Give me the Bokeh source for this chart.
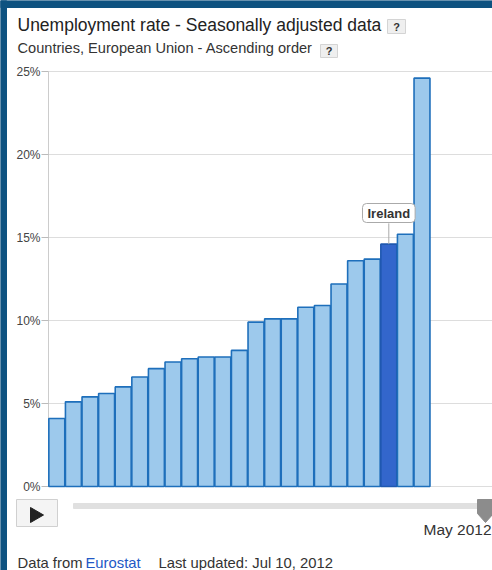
from bokeh.plotting import figure
from bokeh.models import Label, Range1d, ColumnDataSource
from bokeh.embed import file_html
from bokeh.resources import INLINE

# ---------------- data ----------------
countries = ["Austria", "Netherlands", "Luxembourg", "Germany", "Malta",
             "Czech Republic", "Romania", "Belgium", "Denmark", "Finland",
             "Sweden", "Slovenia", "United Kingdom", "Poland", "France",
             "Italy", "Hungary", "Bulgaria", "Lithuania", "Slovakia",
             "Ireland", "Portugal", "Spain"]
rates = [4.1, 5.1, 5.4, 5.6, 6.0, 6.6, 7.1, 7.5, 7.7, 7.8, 7.8, 8.2,
         9.9, 10.1, 10.1, 10.8, 10.9, 12.2, 13.6, 13.7, 14.6, 15.2, 24.6]
highlight = "Ireland"
y_ticks = [0, 5, 10, 15, 20, 25]
y_tick_labels = ["0%", "5%", "10%", "15%", "20%", "25%"]
title_text = "Unemployment rate - Seasonally adjusted data"
subtitle_text = "Countries, European Union - Ascending order"
period_text = "May 2012"

# ---------------- layout constants (page pixels) ----------------
W, H = 492, 570
FL, FB = 48, 486          # plot-area left edge and baseline (0 %) in page pixels
SLOT = 16.6               # pixels per category slot
PX = 16.6                 # pixels per percentage point
FONT = "Liberation Sans"

def dx(X):                # page pixel -> data x
    return (X - FL) / SLOT

def dy(Y):                # page pixel -> data y
    return (FB - Y) / PX

xs = [i + 0.5 for i in range(len(rates))]
fills = ["#3366cc" if c == highlight else "#9dc9ec" for c in countries]
lines = ["#1f58b0" if c == highlight else "#1e6fbb" for c in countries]
src = ColumnDataSource(dict(x=xs, top=rates, country=countries, fill=fills, line=lines))

p = figure(width=W, height=H, output_backend="svg", toolbar_location=None,
           x_range=Range1d(dx(0), dx(W)), y_range=Range1d(dy(H), dy(0)),
           x_axis_location=None, y_axis_location=None, title_location=None,
           min_border=0, min_border_left=0, min_border_right=0,
           min_border_top=0, min_border_bottom=0)
p.outline_line_color = None
p.background_fill_color = "white"
p.border_fill_color = "white"
p.grid.visible = False

x_end = dx(W)
# value grid lines, axis line and ticks, driven by the tick arrays
p.segment(x0=[0] * len(y_ticks), x1=[x_end] * len(y_ticks), y0=y_ticks, y1=y_ticks,
          line_color="#dddddd", line_width=1)
p.segment(x0=[0], x1=[0], y0=[y_ticks[0]], y1=[y_ticks[-1]], line_color="#cccccc", line_width=1)
p.segment(x0=[dx(FL - 7)] * len(y_ticks), x1=[0] * len(y_ticks), y0=y_ticks, y1=y_ticks,
          line_color="#bbbbbb", line_width=1)
p.text(x=[0] * len(y_ticks), y=y_ticks, text=y_tick_labels, x_offset=-8,
       text_align="right", text_baseline="middle", text_font_size="12px",
       text_color="#444444", text_font={"value": FONT})

# bars
p.vbar(x="x", top="top", width=0.96, bottom=0, source=src,
       fill_color="fill", line_color="line", line_width=1.6)

# highlight call-out
hi = countries.index(highlight)
p.segment(x0=[xs[hi]], y0=[rates[hi]], x1=[xs[hi]], y1=[rates[hi] + 1.25],
          line_color="#aaaaaa", line_width=1)
p.add_layout(Label(x=xs[hi], y=H - 212.5, x_units="data", y_units="screen",
                   text=highlight, text_font=FONT, text_font_style="bold",
                   text_font_size="13px", text_color="#333333",
                   text_align="center", text_baseline="middle",
                   background_fill_color="white", border_line_color="#aaaaaa",
                   border_line_width=1, border_radius=4,
                   padding=dict(left=5, right=5, top=2, bottom=2)))

def shape(Xs, Ys, fill, line=None):
    p.patch(x=[dx(v) for v in Xs], y=[dy(v) for v in Ys], fill_color=fill,
            line_color=line if line else fill, line_width=1)

def label(X, Y, text, size, color="#222222", bold=False, align="left"):
    # Y is the vertical centre of the capital letters, in page pixels
    p.add_layout(Label(x=X, y=H - Y, x_units="screen", y_units="screen",
                       text=text, text_font=FONT, text_font_size=size,
                       text_font_style="bold" if bold else "normal",
                       text_color=color, text_align=align, text_baseline="middle"))

# page frame strips
shape([0, 6, 6, 0], [0, 0, H, H], "#0e5280")
shape([0, W, W, 0], [0, 0, 7, 7], "#0e5280")

# titles
label(17, 24, title_text, "17.5px", "#222222")
label(17, 47.5, subtitle_text, "14.6px", "#333333")
shape([387, 405, 405, 387], [19, 19, 33, 33], "#efefef", "#d4d4d4")
label(396, 26.5, "?", "11px", "#333333", bold=True, align="center")
shape([320, 337, 337, 320], [44, 44, 57, 57], "#efefef", "#d4d4d4")
label(328.5, 50.5, "?", "11px", "#333333", bold=True, align="center")

# play button and slider
shape([16, 57, 57, 16], [499, 499, 526, 526], "#f4f4f4", "#d0d0d0")
shape([30, 43, 30], [507, 514.5, 522], "#222222")
shape([73, 492, 492, 73], [503, 503, 508, 508], "#e0e0e0")
shape([477, 493, 493, 485, 477], [499, 499, 513, 522, 513], "#8c8c8c")
label(423, 529, period_text, "15.5px", "#333333")

# footer
label(17, 562, "Data from", "14.8px", "#333333")
label(85, 562, "Eurostat", "14.8px", "#2258c6")
label(158, 562, "Last updated: Jul 10, 2012", "14.8px", "#333333")

open("out.html", "w").write(file_html(p, INLINE))
